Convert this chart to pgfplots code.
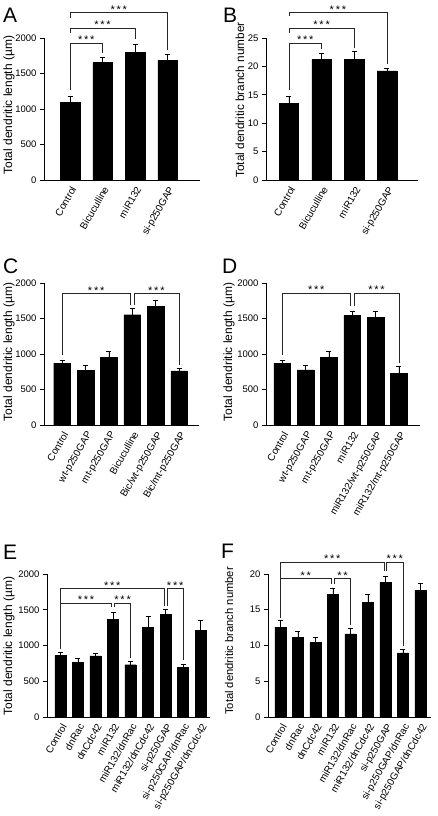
\documentclass[border=0pt]{standalone}
\usepackage{pgfplots}
\pgfplotsset{compat=1.18}
\usepackage{fontspec}
\setmainfont{Liberation Sans}
\newcommand{\sig}[3]{\node[anchor=base, inner sep=0pt, font=\fontsize{11}{11}\selectfont] at (axis cs:#1,#2) {#3};}
\newcommand{\three}{*\kern1.8pt*\kern1.8pt*}
\newcommand{\two}{*\kern1.8pt*}
\tikzset{br/.style={line width=0.55pt, black!85},
  yl/.style={rotate=90, anchor=center, inner sep=0pt, font=\fontsize{#1}{#1}\selectfont}}
\pgfplotsset{
  panel/.style={
    scale only axis, clip=false,
    axis x line*=bottom, axis y line*=left,
    axis line style={-, line width=0.7pt, black},
    ymin=0,
    tick align=outside,
    major tick length=4pt,
    ytick style={line width=0.6pt, black},
    xtick style={draw=none},
    yticklabel style={font=\fontsize{9.5}{10}\selectfont, /pgf/number format/assume math mode=true, /pgf/number format/set thousands separator={}},
    xticklabel style={rotate=60, anchor=north east, inner sep=1pt, font=\fontsize{10}{11}\selectfont},
    anchor=south west,
  },
  bars/.style={ybar, bar width=#1, fill=black, draw=black,
    error bars/.cd, y dir=plus, y explicit,
    error bar style={line width=0.6pt, black},
    error mark options={line width=0.6pt, black, mark size=2.5pt, rotate=90}},
}
\begin{document}
\begin{tikzpicture}
\path[use as bounding box] (0pt,0pt) rectangle (438pt,816pt);
% letters
\node[anchor=north west, inner sep=0pt, font=\fontsize{21}{21}\selectfont] at (3pt,808pt) {A};
\node[anchor=north west, inner sep=0pt, font=\fontsize{21}{21}\selectfont] at (223pt,808pt) {B};
\node[anchor=north west, inner sep=0pt, font=\fontsize{21}{21}\selectfont] at (3pt,557pt) {C};
\node[anchor=north west, inner sep=0pt, font=\fontsize{21}{21}\selectfont] at (222pt,557pt) {D};
\node[anchor=north west, inner sep=0pt, font=\fontsize{21}{21}\selectfont] at (3pt,271pt) {E};
\node[anchor=north west, inner sep=0pt, font=\fontsize{21}{21}\selectfont] at (221pt,272pt) {F};
% y labels
\node[yl=12] at (9pt,711pt) {Total dendritic length (µm)};
\node[yl=11.8] at (240pt,716pt) {Total dendritic branch number};
\node[yl=12] at (9pt,464pt) {Total dendritic length (µm)};
\node[yl=12] at (229pt,464pt) {Total dendritic length (µm)};
\node[yl=12] at (9pt,170pt) {Total dendritic length (µm)};
\node[yl=11.2] at (229pt,175pt) {Total dendritic branch number};

% A
\begin{axis}[panel, at={(44pt,636pt)}, width=156pt, height=142pt,
  xmin=-0.8, xmax=4.0, ymax=2000, ytick={0,500,1000,1500,2000},
  xtick={0,1,2,3}, xticklabels={Control,Bicuculline,miR132,si-p250GAP}]
\addplot[bars=0.6] coordinates {(0,1092) +- (0,84) (1,1652) +- (0,76) (2,1800) +- (0,110) (3,1683) +- (0,85)};
\draw[br] (axis cs:0,1268) |- (axis cs:1,1930) -- (axis cs:1,1789);
\draw[br] (axis cs:0,2070) |- (axis cs:2,2141) -- (axis cs:2,1986);
\draw[br] (axis cs:0,2282) |- (axis cs:3,2356) -- (axis cs:3,1831);
\sig{0.5}{1920}{\three}
\sig{1}{2131}{\three}
\sig{1.5}{2346}{\three}
\end{axis}

% B
\begin{axis}[panel, at={(266pt,636pt)}, width=152pt, height=142pt,
  xmin=-0.7, xmax=3.95, ymax=25, ytick={0,5,10,15,20,25},
  xtick={0,1,2,3}, xticklabels={Control,Bicuculline,miR132,si-p250GAP}]
\addplot[bars=0.6] coordinates {(0,13.5) +- (0,1.2) (1,21.25) +- (0,1.1) (2,21.25) +- (0,1.4) (3,19.2) +- (0,0.55)};
\draw[br] (axis cs:0,15.9) |- (axis cs:1,24.1) -- (axis cs:1,23.1);
\draw[br] (axis cs:0,25.9) |- (axis cs:2,26.7) -- (axis cs:2,23.2);
\draw[br] (axis cs:0,28.8) |- (axis cs:3,29.5) -- (axis cs:3,20.5);
\sig{0.5}{24.0}{\three}
\sig{1}{26.6}{\three}
\sig{1.5}{29.4}{\three}
\end{axis}

% C
\begin{axis}[panel, at={(44pt,391pt)}, width=155pt, height=142pt,
  xmin=-0.77, xmax=5.85, ymax=2000, ytick={0,500,1000,1500,2000},
  xtick={0,1,2,3,4,5}, xticklabels={Control,wt-p250GAP,mt-p250GAP,Bicuculline,Bic/wt-p250GAP,Bic/mt-p250GAP}]
\addplot[bars=0.71] coordinates {(0,871) +- (0,47) (1,767) +- (0,75) (2,955) +- (0,76) (3,1553) +- (0,94) (4,1671) +- (0,80) (5,762) +- (0,33)};
\draw[br] (axis cs:0,986) |- (axis cs:2.93,1855) -- (axis cs:2.93,1690);
\draw[br] (axis cs:3.07,1690) |- (axis cs:5,1855) -- (axis cs:5,845);
\sig{1.46}{1845}{\three}
\sig{4.03}{1845}{\three}
\end{axis}

% D
\begin{axis}[panel, at={(266pt,391pt)}, width=154pt, height=142pt,
  xmin=-0.69, xmax=5.9, ymax=2000, ytick={0,500,1000,1500,2000},
  xtick={0,1,2,3,4,5}, xticklabels={Control,wt-p250GAP,mt-p250GAP,miR132,miR132/wt-p250GAP,miR132/mt-p250GAP}]
\addplot[bars=0.71] coordinates {(0,871) +- (0,47) (1,776) +- (0,71) (2,955) +- (0,80) (3,1543) +- (0,57) (4,1520) +- (0,80) (5,729) +- (0,95)};
\draw[br] (axis cs:0,986) |- (axis cs:2.92,1855) -- (axis cs:2.92,1670);
\draw[br] (axis cs:3.08,1670) |- (axis cs:5,1855) -- (axis cs:5,877);
\sig{1.46}{1845}{\three}
\sig{4.04}{1845}{\three}
\end{axis}

% E
\begin{axis}[panel, at={(47pt,99pt)}, width=163pt, height=143pt,
  xmin=-0.77, xmax=8.54, ymax=2000, ytick={0,500,1000,1500,2000},
  xtick={0,...,8}, xticklabels={Control,dnRac,dnCdc42,miR132,miR132/dnRac,miR132/dnCdc42,si-p250GAP,si-p250GAP/dnRac,si-p250GAP/dnCdc42}]
\addplot[bars=0.63] coordinates {(0,863) +- (0,43) (1,764) +- (0,61) (2,854) +- (0,33) (3,1369) +- (0,93) (4,731) +- (0,43) (5,1255) +- (0,151) (6,1440) +- (0,60) (7,694) +- (0,37) (8,1213) +- (0,136)};
\draw[br] (axis cs:0,958) |- (axis cs:5.92,1797) -- (axis cs:5.92,1557);
\draw[br] (axis cs:0,1595) -| (axis cs:2.92,1538);
\draw[br] (axis cs:3.1,1538) |- (axis cs:4,1595) -- (axis cs:4,831);
\draw[br] (axis cs:6.1,1557) |- (axis cs:7,1797) -- (axis cs:7,802);
\sig{2.96}{1787}{\three}
\sig{1.46}{1585}{\three}
\sig{3.55}{1585}{\three}
\sig{6.55}{1787}{\three}
\end{axis}

% F
\begin{axis}[panel, at={(268pt,99pt)}, width=163pt, height=143pt,
  xmin=-0.71, xmax=8.6, ymax=20, ytick={0,5,10,15,20},
  xtick={0,...,8}, xticklabels={Control,dnRac,dnCdc42,miR132,miR132/dnRac,miR132/dnCdc42,si-p250GAP,si-p250GAP/dnRac,si-p250GAP/dnCdc42}]
\addplot[bars=0.63] coordinates {(0,12.58) +- (0,0.89) (1,11.16) +- (0,0.85) (2,10.45) +- (0,0.71) (3,17.12) +- (0,0.89) (4,11.63) +- (0,0.8) (5,16.08) +- (0,1.04) (6,18.82) +- (0,0.85) (7,8.98) +- (0,0.52) (8,17.73) +- (0,0.95)};
\draw[br] (axis cs:0,13.86) |- (axis cs:5.93,21.66) -- (axis cs:5.93,20.47);
\draw[br] (axis cs:0,19.39) -| (axis cs:2.9,18.6);
\draw[br] (axis cs:3.1,18.6) |- (axis cs:4,19.39) -- (axis cs:4,12.9);
\draw[br] (axis cs:6.07,20.47) |- (axis cs:7,21.66) -- (axis cs:7,9.95);
\sig{2.96}{21.56}{\three}
\sig{1.45}{19.29}{\two}
\sig{3.55}{19.29}{\two}
\sig{6.53}{21.56}{\three}
\end{axis}
\end{tikzpicture}
\end{document}
